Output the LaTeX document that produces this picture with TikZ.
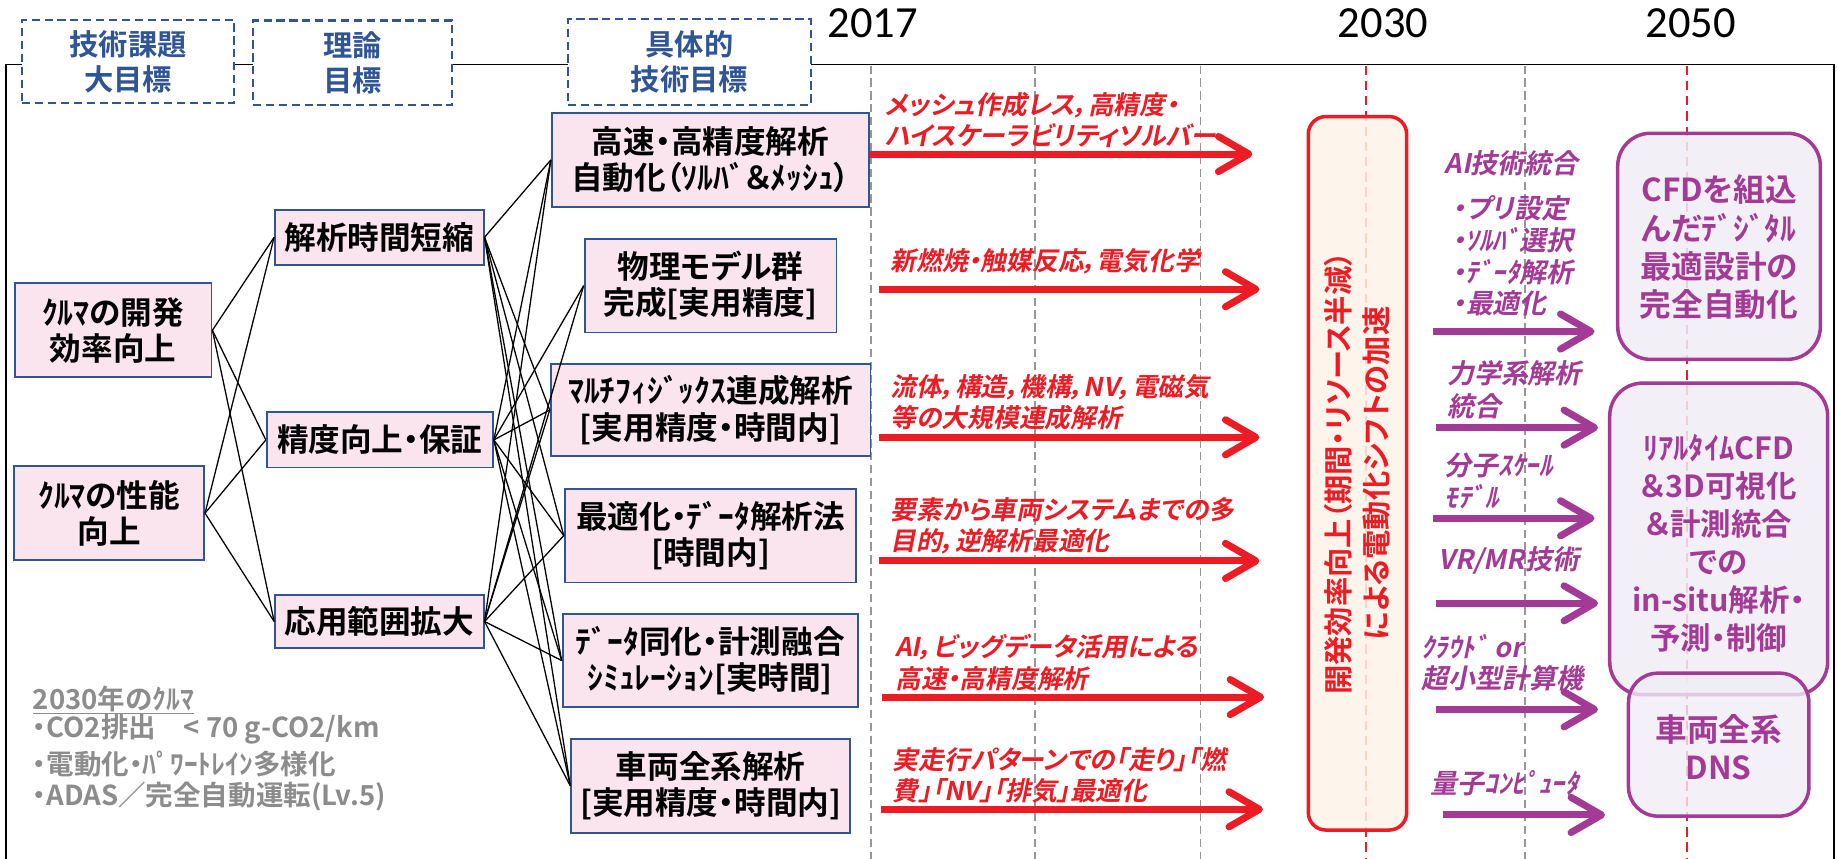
\documentclass[tikz,border=0pt]{standalone}
\usepackage{fontspec}
\setmainfont{Carlito}
\newfontfamily\jp[RawFeature=+palt]{Noto Sans CJK JP Bold}
\newfontfamily\jpit[RawFeature=+palt,FakeSlant=0.2]{Noto Sans CJK JP Bold}
\newfontfamily\yearfont{Carlito}
\definecolor{bxblue}{RGB}{47,85,151}
\definecolor{bxpink}{RGB}{250,228,238}
\definecolor{rred}{RGB}{237,28,36}
\definecolor{rfill}{RGB}{253,242,232}
\definecolor{ppl}{RGB}{163,58,150}
\definecolor{pfill}{RGB}{240,237,245}
\definecolor{gtext}{RGB}{140,140,140}
\definecolor{gline}{RGB}{150,150,150}
\begin{document}
\begin{tikzpicture}[x=1pt,y=-1pt,
  bx/.style={draw=bxblue, fill=bxpink, line width=1.6pt, align=center, inner sep=0pt, font=\jp\fontsize{27}{31}\selectfont},
  hd/.style={draw=bxblue, fill=white, line width=1.8pt, dash pattern=on 7pt off 4pt, text=bxblue, align=center, inner sep=0pt, font=\jp\fontsize{25}{30}\selectfont},
  conn/.style={black, line width=1.1pt},
  rlab/.style={text=rred, anchor=west, inner sep=0pt, align=left, font=\jpit\fontsize{22}{26.5}\selectfont},
  plab/.style={text=ppl, anchor=west, inner sep=0pt, align=left, font=\jpit\fontsize{23}{27}\selectfont},
  rshaft/.style={draw=rred, line width=6pt},
  pshaft/.style={draw=ppl, line width=6pt},
  rhead/.style={draw=rred, line width=6pt, line cap=round, line join=round},
  phead/.style={draw=ppl, line width=6pt, line cap=round, line join=round},
  gdash/.style={draw=gline, line width=1.3pt, dash pattern=on 7pt off 4pt},
  rdash/.style={draw=rred, line width=1.6pt, dash pattern=on 8pt off 5pt},
  pbox/.style={draw=ppl, line width=3pt, fill=pfill, fill opacity=0.85, text opacity=1, rounded corners=28pt, inner sep=0pt},
  ptext/.style={text=ppl, align=center, inner sep=0pt, font=\jp\fontsize{27}{32.5}\selectfont},
  gtx/.style={text=gtext, anchor=west, inner sep=0pt, font=\jp\fontsize{23.5}{27}\selectfont},
  yr/.style={inner sep=0pt, font=\yearfont\fontsize{38}{40}\selectfont}
]
\useasboundingbox (0,0) rectangle (1568,733);
% frame
\draw[line width=1.5pt] (5,740) -- (5,55) -- (1565.5,55) -- (1565.5,740);
% dashed time lines
\foreach \gx in {743.5,883.6,1024.5,1301.7} \draw[gdash] (\gx,56) -- (\gx,733);
\foreach \rx in {1166,1439.6} \draw[rdash] (\rx,56) -- (\rx,733);
% header boxes
\node[hd, minimum width=181pt, minimum height=71pt] (h1) at (109.5,52.5) {技術課題\\大目標};
\node[hd, minimum width=170pt, minimum height=72pt] (h2) at (301,53.5) {理論\\目標};
\node[hd, minimum width=207pt, minimum height=73pt] (h3) at (588.5,53) {具体的\\技術目標};
% years
\node[yr] (y2017) at (745,20) {2017};
\node[yr] (y2030) at (1180.5,20) {2030};
\node[yr] (y2050) at (1443,20) {2050};
% column 1
\node[bx, minimum width=168pt, minimum height=80pt] (c1a) at (96.5,281.9) {ｸﾙﾏの開発\\効率向上};
\node[bx, minimum width=162pt, minimum height=80pt] (c1b) at (93.2,438) {ｸﾙﾏの性能\\向上};
% column 2
\node[bx, minimum width=178pt, minimum height=47pt] (c2a) at (323.8,202.5) {解析時間短縮};
\node[bx, minimum width=193pt, minimum height=47pt] (c2b) at (324.2,375.5) {精度向上・保証};
\node[bx, minimum width=178pt, minimum height=45pt] (c2c) at (323.8,530.5) {応用範囲拡大};
% column 3
\node[bx, minimum width=271pt, minimum height=80pt] (c3a) at (606.5,136.5) {高速・高精度解析\\自動化（ｿﾙﾊﾞ＆ﾒｯｼｭ）};
\node[bx, minimum width=215pt, minimum height=80pt] (c3b) at (606.5,243.8) {物理モデル群\\完成[実用精度]};
\node[bx, minimum width=273pt, minimum height=78pt] (c3c) at (606.5,350) {ﾏﾙﾁﾌｨｼﾞｯｸｽ連成解析\\{}[実用精度・時間内]};
\node[bx, minimum width=249pt, minimum height=80pt] (c3d) at (606.5,457.2) {最適化・ﾃﾞｰﾀ解析法\\{}[時間内]};
\node[bx, minimum width=252pt, minimum height=80pt] (c3e) at (606.2,563.8) {ﾃﾞｰﾀ同化・計測融合\\ｼﾐｭﾚｰｼｮﾝ[実時間]};
\node[bx, minimum width=238pt, minimum height=80pt] (c3f) at (606.6,670.8) {車両全系解析\\{}[実用精度・時間内]};
% connectors
\foreach \a in {c1a,c1b} \foreach \b in {c2a,c2b,c2c} \draw[conn] (\a.east) -- (\b.west);
\foreach \b in {c3a,c3c,c3d,c3e,c3f} \draw[conn] (c2a.east) -- (\b.west);
\foreach \a in {c2b,c2c} \foreach \b in {c3a,c3b,c3c,c3d,c3e,c3f} \draw[conn] (\a.east) -- (\b.west);
% red arrows
\foreach \n/\xs/\xe/\yy in {1/743/1066/131.5, 2/750/1072/246.9, 3/750/1072/373.3, 4/750/1072/478.8, 5/753/1076/595, 6/752/1075/690.8}{
  \coordinate (rs\n) at (\xs,\yy);
  \coordinate (re\n) at (\xe,\yy);
  \draw[rshaft] (rs\n) -- (re\n);
  \draw[rhead] ([shift={(-26,-15)}]re\n) -- (re\n) -- ([shift={(-26,15)}]re\n);
}
% red labels
\node[rlab] (rl1) at (755,102.3) {メッシュ作成レス，高精度・\\ハイスケーラビリティソルバー};
\node[rlab] (rl2) at (760,223) {新燃焼・触媒反応，電気化学};
\node[rlab] (rl3) at (760,343.5) {流体，構造，機構，NV，電磁気\\等の大規模連成解析};
\node[rlab] (rl4) at (760,449) {要素から車両システムまでの多\\目的，逆解析最適化};
\node[rlab] (rl5) at (764,565.5) {AI，ビッグデータ活用による\\高速・高精度解析};
\node[rlab] (rl6) at (762,661.5) {実走行パターンでの「走り」「燃\\費」「NV」「排気」最適化};
% red 2030 box
\node[draw=rred, line width=3pt, fill=rfill, fill opacity=0.85, rounded corners=15pt, minimum width=84pt, minimum height=609pt, inner sep=0pt] (rb) at (1158.7,404) {};
\node[rotate=90, text=rred, align=center, inner sep=0pt, font=\jp\fontsize{25}{32}\selectfont] (rbt) at (rb.center) {開発効率向上（期間・リソース半減）\\による電動化シフトの加速};
% purple arrows
\foreach \n/\xs/\xe/\yy in {1/1223/1358/283, 2/1226/1361/365, 3/1223/1358/442.4, 4/1226/1361/515, 5/1226/1361/605.5, 6/1232/1367/695.6}{
  \coordinate (ps\n) at (\xs,\yy);
  \coordinate (pe\n) at (\xe,\yy);
  \draw[pshaft] (ps\n) -- (pe\n);
  \draw[phead] ([shift={(-26,-15)}]pe\n) -- (pe\n) -- ([shift={(-26,15)}]pe\n);
}
% purple labels
\node[plab] (pl1) at (1233,139.4) {AI技術統合};
\node[plab] (pl2) at (1239.6,218.5) {・プリ設定\\・ｿﾙﾊﾞ選択\\・ﾃﾞｰﾀ解析\\・最適化};
\node[plab, font=\jpit\fontsize{23}{28.3}\selectfont] (pl3) at (1235,333) {力学系解析\\統合};
\node[plab] (pl4) at (1233,410.5) {分子ｽｹｰﾙ\\ﾓﾃﾞﾙ};
\node[plab] (pl5) at (1227.5,478) {VR/MR技術};
\node[plab] (pl6) at (1213,565.5) {ｸﾗｳﾄﾞ or\\超小型計算機};
\node[plab] (pl7) at (1221,668.6) {量子ｺﾝﾋﾟｭｰﾀ};
% purple boxes
\node[pbox, minimum width=173pt, minimum height=193pt] (pA) at (1467.3,210.25) {};
\node[ptext] (pAt) at (1467.3,211) {CFDを組込\\んだﾃﾞｼﾞﾀﾙ\\最適設計の\\完全自動化};
\node[pbox, minimum width=186pt, minimum height=266pt] (pB) at (1467,460) {};
\node[ptext, font=\jp\fontsize{26}{32.4}\selectfont] (pBt) at (1467,463.7) {ﾘｱﾙﾀｲﾑCFD\\＆3D可視化\\＆計測統合\\での\\in-situ解析・\\予測・制御};
\node[pbox, fill opacity=0.8, rounded corners=25pt, minimum width=154pt, minimum height=122pt] (pC) at (1467,635.6) {};
\node[ptext] (pCt) at (1467,638) {車両全系\\DNS};
% gray notes
\node[gtx] (g1) at (27.8,597.5) {\underline{2030年のｸﾙﾏ}};
\node[gtx] (g2) at (27.8,622.5) {・CO2排出　< 70 g-CO2/km};
\node[gtx] (g3) at (27.8,652) {・電動化・ﾊﾟﾜｰﾄﾚｲﾝ多様化};
\node[gtx] (g4) at (27.8,680) {・ADAS／完全自動運転(Lv.5)};
\end{tikzpicture}
\end{document}
